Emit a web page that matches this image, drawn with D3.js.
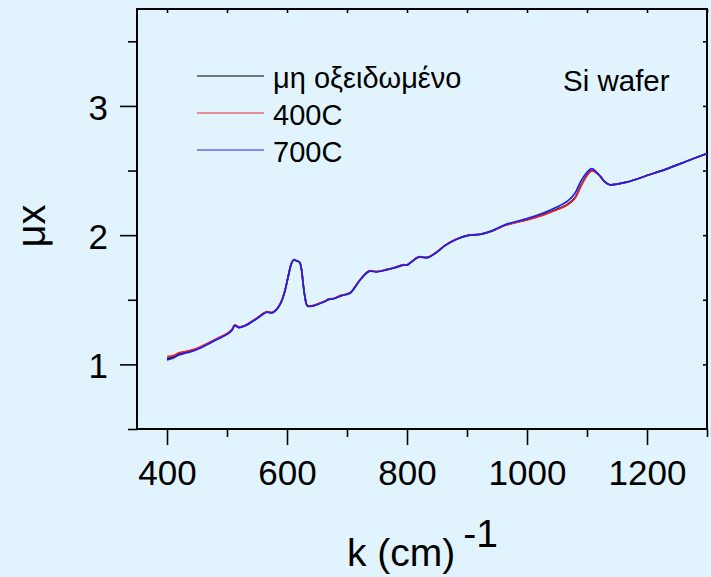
<!DOCTYPE html>
<html>
<head>
<meta charset="utf-8">
<script src="https://cdn.jsdelivr.net/npm/d3@7"></script>
<style>
  html, body { margin: 0; padding: 0; background: #E1F4FE; }
  svg { display: block; font-family: "Liberation Sans", Arial, sans-serif; }
</style>
</head>
<body>
<svg id="chart" width="711" height="577"></svg>
<script>
// ---- data ----
const kValues = [400, 410, 420, 430, 440, 455, 470, 485, 500, 508, 513, 520, 532, 550, 566, 575, 583, 590, 596, 602, 607, 611, 616, 621, 624, 627, 630, 634, 644, 656, 666, 670, 678, 690, 705, 712, 722, 737, 749, 766, 780, 794, 800, 808, 819, 835, 850, 863, 883, 902, 922, 941, 966, 1000, 1027, 1050, 1068, 1080, 1090, 1100, 1108, 1115, 1122, 1130, 1138, 1150, 1166, 1205, 1233, 1266, 1300];
const muUnoxidized = [1.045, 1.055, 1.08, 1.092, 1.103, 1.13, 1.165, 1.2, 1.235, 1.265, 1.302, 1.287, 1.304, 1.357, 1.405, 1.4, 1.428, 1.48, 1.56, 1.68, 1.775, 1.808, 1.8, 1.79, 1.74, 1.62, 1.52, 1.455, 1.455, 1.475, 1.495, 1.505, 1.51, 1.532, 1.552, 1.59, 1.655, 1.722, 1.717, 1.733, 1.75, 1.77, 1.769, 1.795, 1.83, 1.828, 1.87, 1.919, 1.97, 1.998, 2.006, 2.03, 2.08, 2.12, 2.159, 2.2, 2.24, 2.29, 2.385, 2.465, 2.5, 2.485, 2.455, 2.41, 2.39, 2.395, 2.41, 2.469, 2.513, 2.572, 2.632];
const mu400C = [1.06, 1.068, 1.09, 1.1, 1.11, 1.135, 1.17, 1.205, 1.24, 1.27, 1.306, 1.29, 1.307, 1.36, 1.408, 1.402, 1.43, 1.482, 1.562, 1.682, 1.777, 1.81, 1.802, 1.79, 1.74, 1.62, 1.52, 1.455, 1.457, 1.477, 1.497, 1.507, 1.512, 1.534, 1.554, 1.592, 1.657, 1.724, 1.719, 1.735, 1.752, 1.772, 1.771, 1.797, 1.832, 1.83, 1.872, 1.92, 1.971, 1.999, 2.007, 2.03, 2.08, 2.118, 2.155, 2.196, 2.235, 2.285, 2.38, 2.46, 2.497, 2.484, 2.455, 2.41, 2.39, 2.395, 2.41, 2.469, 2.513, 2.572, 2.632];
const mu700C = [1.035, 1.048, 1.072, 1.086, 1.098, 1.125, 1.16, 1.196, 1.232, 1.262, 1.3, 1.284, 1.302, 1.355, 1.403, 1.398, 1.426, 1.478, 1.558, 1.68, 1.776, 1.81, 1.801, 1.79, 1.74, 1.62, 1.52, 1.452, 1.453, 1.473, 1.493, 1.503, 1.508, 1.53, 1.55, 1.588, 1.653, 1.72, 1.715, 1.731, 1.748, 1.768, 1.768, 1.794, 1.829, 1.827, 1.869, 1.918, 1.969, 1.998, 2.007, 2.033, 2.085, 2.128, 2.172, 2.218, 2.265, 2.325, 2.42, 2.487, 2.515, 2.492, 2.458, 2.412, 2.39, 2.395, 2.41, 2.469, 2.513, 2.572, 2.632];

const seriesNames = ["μη οξειδωμένο", "400C", "700C"];
const seriesColors = ["#000000", "#E8282E", "#1F1FF0"];
const xMajorTicks = [400, 600, 800, 1000, 1200];
const xMinorTicks = [500, 700, 900, 1100, 1300];
const xTopTicks = [400, 500, 600, 700, 800, 900, 1000, 1100, 1200, 1300];
const yMajorTicks = [1, 2, 3];
const yMinorTicks = [0.5, 1.5, 2.5, 3.5];
const yRightTicks = [1, 1.5, 2, 2.5, 3, 3.5];
const xDomain = [350, 1300];
const yDomain = [0.5, 3.75];

// ---- layout ----
const svg = d3.select("#chart");
const L = 137, T = 9, R = 707, B = 429;
const x = d3.scaleLinear().domain(xDomain).range([L, R]);
const y = d3.scaleLinear().domain(yDomain).range([B, T]);

svg.append("rect").attr("width", 711).attr("height", 577).attr("fill", "#E1F4FE");

const tickFont = 35;

function styleAxis(g) {
  g.select(".domain").remove();
  g.selectAll("line").attr("stroke", "#000").attr("stroke-width", 1.6);
  g.selectAll("text").attr("fill", "#000").attr("font-size", tickFont)
    .attr("font-family", '"Liberation Sans", Arial, sans-serif');
}

// bottom axis major
svg.append("g").attr("transform", `translate(0,${B})`)
  .call(d3.axisBottom(x).tickValues(xMajorTicks).tickSize(16).tickPadding(15).tickFormat(d3.format("d")))
  .call(styleAxis);
// bottom minor
svg.append("g").attr("transform", `translate(0,${B})`)
  .call(d3.axisBottom(x).tickValues(xMinorTicks).tickSize(8).tickFormat(""))
  .call(styleAxis);
// top inward ticks
svg.append("g").attr("transform", `translate(0,${T})`)
  .call(d3.axisBottom(x).tickValues(xTopTicks).tickSize(4).tickFormat(""))
  .call(styleAxis);
// left major
svg.append("g").attr("transform", `translate(${L},0)`)
  .call(d3.axisLeft(y).tickValues(yMajorTicks).tickSize(17).tickPadding(12).tickFormat(d3.format("d")))
  .call(styleAxis)
  .call(g => g.selectAll("text").attr("dy", "0.38em"));
// left minor
svg.append("g").attr("transform", `translate(${L},0)`)
  .call(d3.axisLeft(y).tickValues(yMinorTicks).tickSize(9).tickFormat(""))
  .call(styleAxis);
// right inward ticks
svg.append("g").attr("transform", `translate(${R},0)`)
  .call(d3.axisLeft(y).tickValues(yRightTicks).tickSize(4).tickFormat(""))
  .call(styleAxis);

// frame
svg.append("rect").attr("x", L).attr("y", T).attr("width", R - L).attr("height", B - T)
  .attr("fill", "none").attr("stroke", "#000").attr("stroke-width", 2);

// curves
const allSeries = [muUnoxidized, mu400C, mu700C];
const line = d3.line().x(d => x(d[0])).y(d => y(d[1])).curve(d3.curveCatmullRom.alpha(0.5));
svg.append("clipPath").attr("id", "clip").append("rect")
  .attr("x", L).attr("y", T).attr("width", R - L).attr("height", B - T);
allSeries.forEach((vals, i) => {
  svg.append("path")
    .datum(kValues.map((k, j) => [k, vals[j]]))
    .attr("d", line)
    .attr("fill", "none")
    .attr("stroke", seriesColors[i])
    .attr("stroke-width", 1.7)
    .attr("clip-path", "url(#clip)");
});

// legend
const legend = svg.append("g");
seriesNames.forEach((name, i) => {
  const ly = 76 + i * 37;
  legend.append("line").attr("x1", 197).attr("x2", 264).attr("y1", ly).attr("y2", ly)
    .attr("stroke", seriesColors[i]).attr("stroke-width", 1.2);
  legend.append("text").attr("x", 273).attr("y", ly + 12)
    .attr("font-size", 29).attr("fill", "#000").text(name);
});

// annotation
svg.append("text").attr("x", 563).attr("y", 91).attr("font-size", 29.5).attr("fill", "#000").text("Si wafer");

// axis titles
const xt = svg.append("text").attr("x", 347).attr("y", 566).attr("font-size", 39).attr("fill", "#000");
xt.append("tspan").text("k (cm)");
xt.append("tspan").attr("dx", 8).attr("dy", -19).text("-1");

svg.append("text").attr("transform", "translate(45,226) rotate(-90)")
  .attr("text-anchor", "middle").attr("font-size", 40).attr("fill", "#000").text("μx");
</script>
</body>
</html>
